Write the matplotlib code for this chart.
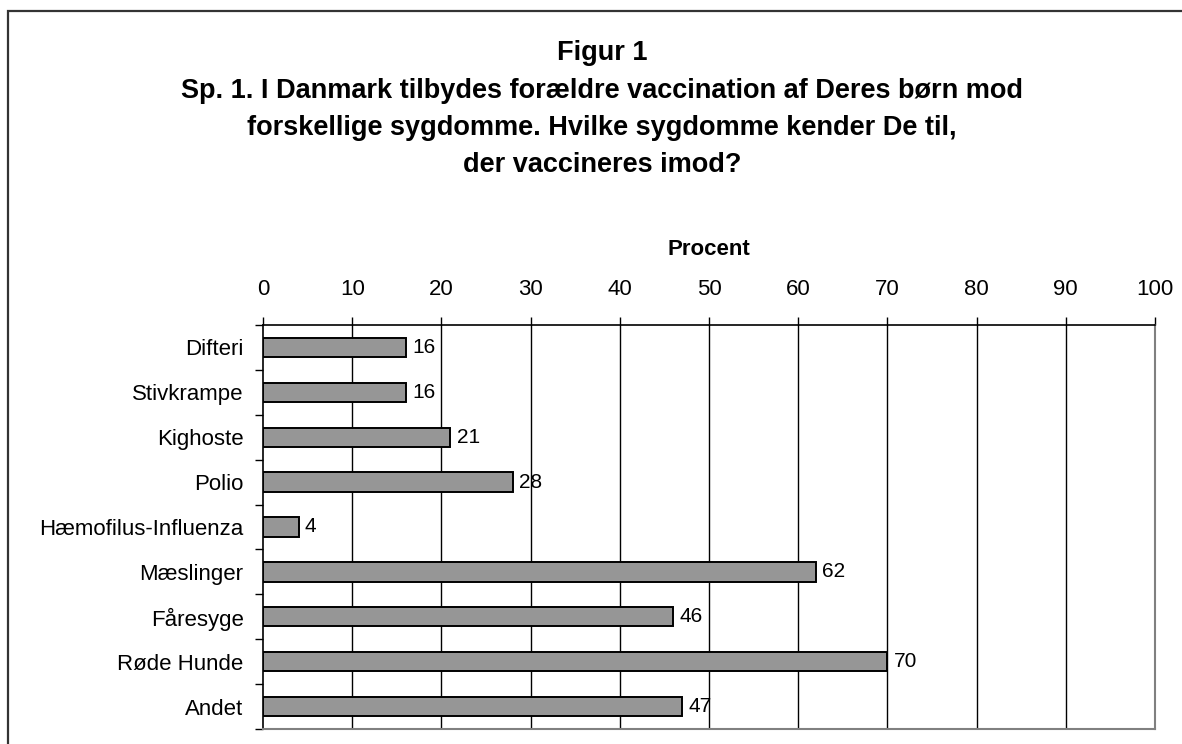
import matplotlib
matplotlib.use('Agg')
import matplotlib.pyplot as plt
from matplotlib.patches import Rectangle

plt.rcParams['font.family'] = ['Liberation Sans', 'DejaVu Sans']

# data
sygdomme = ['Difteri', 'Stivkrampe', 'Kighoste', 'Polio', 'Hæmofilus-Influenza',
            'Mæslinger', 'Fåresyge', 'Røde Hunde', 'Andet']
procent = [16, 16, 21, 28, 4, 62, 46, 70, 47]
x_ticks = [0, 10, 20, 30, 40, 50, 60, 70, 80, 90, 100]

title_lines = ['Figur 1',
               'Sp. 1. I Danmark tilbydes forældre vaccination af Deres børn mod',
               'forskellige sygdomme. Hvilke sygdomme kender De til,',
               'der vaccineres imod?']

W, H = 1182, 744
fig = plt.figure(figsize=(W / 100, H / 100), dpi=100)
fig.patch.set_facecolor('white')

# outer frame
fig.add_artist(Rectangle((8 / W, -0.1), 1.2, 1 - 11 / H + 0.1, transform=fig.transFigure,
                         fill=False, edgecolor='#333333', linewidth=1.6))

# title
for i, line in enumerate(title_lines):
    y = 53 + i * 37.5
    fig.text(602 / W, 1 - y / H, line, ha='center', va='center',
             fontsize=19.5, fontweight='bold')

ax = fig.add_axes([263 / W, 1 - 729 / H, (1155 - 263) / W, (729 - 325) / H])

y_pos = list(range(len(sygdomme)))
ax.barh(y_pos, procent, height=0.43, color='#969696', edgecolor='black',
        linewidth=1.4, zorder=3)
for y, v in zip(y_pos, procent):
    ax.text(v + 0.7, y, str(v), va='center', ha='left', fontsize=15, zorder=4)

ax.set_xlim(0, 100)
ax.set_ylim(len(sygdomme) - 0.5, -0.5)
ax.set_xticks(x_ticks)
ax.xaxis.tick_top()
ax.xaxis.set_label_position('top')
ax.tick_params(axis='x', length=6, width=1, pad=12, labelsize=16)
ax.set_xlabel('Procent', fontsize=16, fontweight='bold', labelpad=17)

ax.set_yticks(y_pos)
ax.set_yticklabels(sygdomme)
ax.set_yticks([i - 0.5 for i in range(len(sygdomme) + 1)], minor=True)
ax.tick_params(axis='y', which='major', length=0, pad=14, labelsize=16)
ax.tick_params(axis='y', which='minor', length=6, width=1)

# vertical gridlines
for xv in x_ticks[1:-1]:
    ax.axvline(xv, color='black', linewidth=1, zorder=1)

ax.spines['top'].set_linewidth(1.2)
ax.spines['left'].set_linewidth(1.2)
ax.spines['right'].set_color('#808080')
ax.spines['right'].set_linewidth(1.5)
ax.spines['bottom'].set_color('#808080')
ax.spines['bottom'].set_linewidth(1.5)

plt.savefig('out.png', dpi=100)
